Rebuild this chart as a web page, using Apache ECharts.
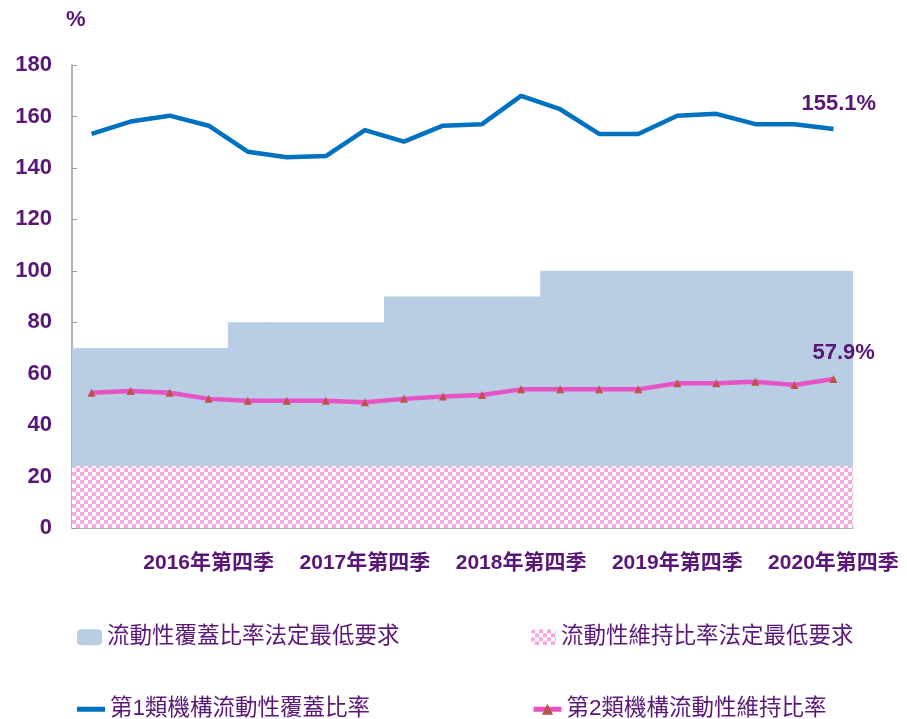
<!DOCTYPE html>
<html>
<head>
<meta charset="utf-8">
<script src="https://cdn.jsdelivr.net/npm/echarts@6/dist/echarts.min.js"></script>
<style>
  html, body { margin: 0; padding: 0; background: #fff; }
  #chart { width: 907px; height: 719px; }
</style>
</head>
<body>
<div id="chart"></div>
<script>
var years = ['2016', '2017', '2018', '2019', '2020'];
var quarters = ['第一季', '第二季', '第三季', '第四季'];
var categories = [];
years.forEach(function (y) {
    quarters.forEach(function (q) { categories.push(y + '年' + q); });
});

// 法定最低要求
var lcrMin = [70, 70, 70, 70, 80, 80, 80, 80, 90, 90, 90, 90, 100, 100, 100, 100, 100, 100, 100, 100];
var lmrMin = [24, 24, 24, 24, 24, 24, 24, 24, 24, 24, 24, 24, 24, 24, 24, 24, 24, 24, 24, 24];

// 第1類 / 第2類機構
var lcr = [153.2, 158, 160.3, 156.4, 146.3, 144.1, 144.6, 154.7, 150.2, 156.4,
           157, 168, 162.8, 153.2, 153.2, 160.3, 161, 157, 157, 155.1];
var lmr = [52.6, 53.3, 52.6, 50.2, 49.5, 49.5, 49.5, 48.9, 50.2, 51.1,
           51.7, 53.9, 53.9, 53.9, 53.9, 56.3, 56.3, 56.9, 55.6, 57.9];

var purple = '#5a1677';
var fontFam = '"Liberation Sans", Arial, "Noto Sans CJK TC", sans-serif';

// 粉紅格仔
var pat = document.createElement('canvas');
pat.width = 8; pat.height = 8;
var ctx = pat.getContext('2d');
ctx.fillStyle = '#ffffff';
ctx.fillRect(0, 0, 8, 8);
ctx.fillStyle = '#f5a8e2';
ctx.fillRect(0, 0, 4, 4);
ctx.fillRect(4, 4, 4, 4);

var myChart = echarts.init(document.getElementById('chart'));

function oneLegend(item, left, top, isLine) {
    var lg = {
        data: [item],
        left: left,
        top: top,
        itemWidth: isLine ? 28 : 25,
        itemHeight: isLine ? 14 : 16,
        itemGap: 4,
        textStyle: { color: purple, fontSize: 22.5, fontFamily: fontFam },
        selectedMode: false
    };
    if (isLine) {
        lg.lineStyle = { width: 5 };
    }
    return lg;
}

var option = {
    animation: false,
    grid: {
        left: 72, right: 54, top: 65, bottom: 191,
        containLabel: false,
        outerBoundsMode: 'none'
    },
    legend: [
        oneLegend('流動性覆蓋比率法定最低要求', 72, 621, false),
        oneLegend('流動性維持比率法定最低要求', 526, 621, false),
        oneLegend({ name: '第1類機構流動性覆蓋比率', icon: 'path://M0,0 L28,0 L28,5 L0,5 Z' }, 72, 693, true),
        oneLegend('第2類機構流動性維持比率', 526, 693, true)
    ],
    xAxis: {
        type: 'category',
        data: categories,
        boundaryGap: true,
        axisLine: { lineStyle: { color: '#999', width: 1.5 } },
        axisTick: { show: true, alignWithLabel: true, inside: true, length: 5, interval: 0, lineStyle: { color: '#999' } },
        axisLabel: {
            interval: function (i) { return i % 4 === 3; },
            color: purple,
            fontSize: 21,
            fontWeight: 'bold',
            fontFamily: fontFam,
            margin: 25
        },
        splitLine: { show: false }
    },
    yAxis: {
        type: 'value',
        min: 0,
        max: 180,
        interval: 20,
        name: '%',
        nameLocation: 'end',
        nameGap: 34,
        nameTextStyle: { color: purple, fontSize: 22, fontWeight: 'bold', fontFamily: fontFam, align: 'left', padding: [0, 0, 0, -6] },
        axisLine: { show: true, lineStyle: { color: '#999', width: 1.5 } },
        axisTick: { show: true, inside: true, length: 5, lineStyle: { color: '#999' } },
        axisLabel: { color: purple, fontSize: 22, fontWeight: 'bold', fontFamily: fontFam, margin: 20 },
        splitLine: { show: false }
    },
    series: [
        {
            name: '流動性覆蓋比率法定最低要求',
            type: 'bar',
            data: lcrMin,
            barWidth: '102%',
            barGap: '-100%',
            itemStyle: { color: '#b9cde4' },
            z: 1
        },
        {
            name: '流動性維持比率法定最低要求',
            type: 'bar',
            data: lmrMin,
            barWidth: '102%',
            barGap: '-100%',
            itemStyle: { color: { image: pat, repeat: 'repeat' } },
            z: 2
        },
        {
            name: '第1類機構流動性覆蓋比率',
            type: 'line',
            data: lcr,
            symbol: 'none',
            lineStyle: { color: '#0070c0', width: 4.5 },
            itemStyle: { color: '#0070c0' },
            z: 5,
            endLabel: {
                show: true,
                formatter: function (p) { return p.value.toFixed(1) + '%'; },
                color: purple,
                fontSize: 22,
                fontWeight: 'bold',
                fontFamily: fontFam,
                offset: [-40, -25]
            }
        },
        {
            name: '第2類機構流動性維持比率',
            type: 'line',
            data: lmr,
            symbol: 'triangle',
            symbolSize: 8,
            lineStyle: { color: '#e653c2', width: 4.5 },
            itemStyle: { color: '#c0504d' },
            z: 6,
            endLabel: {
                show: true,
                formatter: function (p) { return p.value.toFixed(1) + '%'; },
                color: purple,
                fontSize: 22,
                fontWeight: 'bold',
                fontFamily: fontFam,
                offset: [-29, -26]
            }
        }
    ]
};

myChart.setOption(option);
</script>
</body>
</html>
